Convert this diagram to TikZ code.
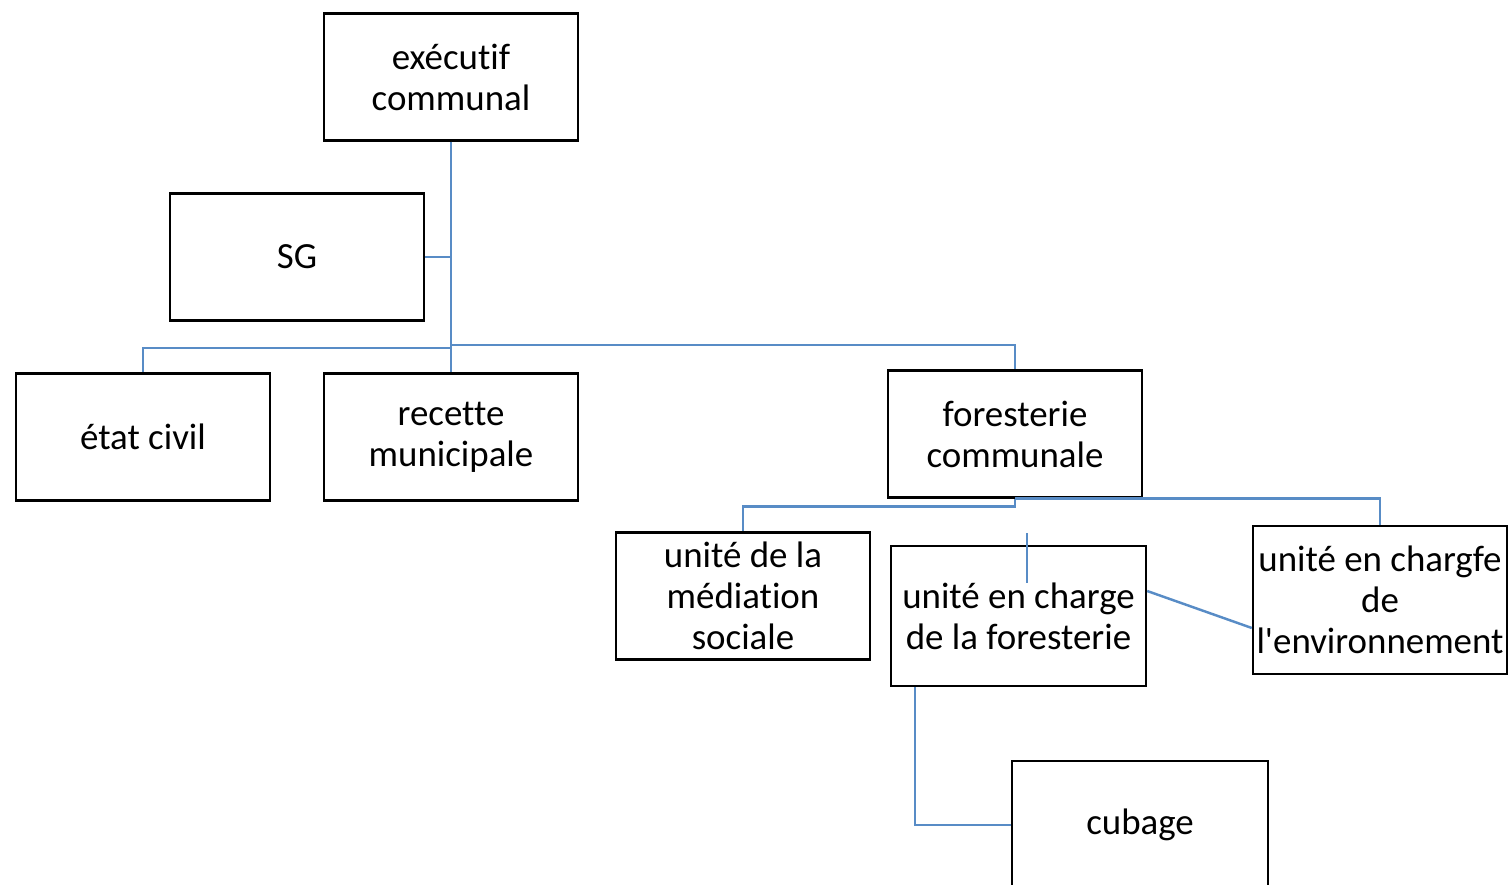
\documentclass[tikz,border=0pt]{standalone}
\usepackage{fontspec}
\setmainfont[Ligatures={TeX,NoCommon}]{Carlito}
\usepackage{tikz}
\definecolor{linkblue}{RGB}{88,140,198}

\begin{document}
\begin{tikzpicture}[x=0.02cm, y=-0.02cm,
    unit/.style={draw, line width=1.4pt, minimum width=5.08cm, minimum height=2.54cm,
                 align=center, inner sep=1pt, font=\fontsize{21}{23.3}\selectfont},
    link/.style={draw=linkblue, line width=1.4pt}]
    \useasboundingbox (0,0) rectangle (1509,885);
    \node[unit] (exec) at (451,77) {exécutif\\communal};
    \node[unit] (sg) at (297,257) {SG};
    \node[unit] (etat) at (143,437) {état civil};
    \node[unit] (recette) at (451,437) {recette\\municipale};
    \node[unit] (forest) at (1015,434) {foresterie\\communale};
    \node[unit] (mediation) at (743,596) {unité de la\\médiation\\sociale};
    \node[unit, minimum width=5.1cm, minimum height=2.8cm] (charge) at (1018.5,616) {unité en charge\\de la foresterie};
    \node[unit, minimum height=2.96cm] (env) at (1380,600) {unité en chargfe\\de\\l\textquotesingle environnement};
    \node[unit, minimum width=5.12cm, minimum height=2.56cm] (cubage) at (1140,825) {cubage};
    \coordinate (jleft) at (451,348);
    \coordinate (jright) at (451,345);
    \coordinate (stubtop) at (1027,533);
    \coordinate (stubbot) at (1027,583);
    % links
    \path[link] (exec.south) -- (recette.north);
    \path[link] (sg.east) -- (sg.east -| exec.south);
    \path[link] (jleft) -| (etat.north);
    \path[link] (jright) -| (forest.north);
    \path[link] (forest.south) -- ++(0,8) -| (mediation.north);
    \path[link] (forest.south) -| (env.north);
    \path[draw=linkblue, line width=0.6pt] (stubtop) -- (stubbot);
    \path[link] ([yshift=0.5cm]charge.east) -- ([yshift=-0.56cm]env.west);
    \path[link] ([xshift=0.5cm]charge.south west) |- (cubage.west);
\end{tikzpicture}
\end{document}
